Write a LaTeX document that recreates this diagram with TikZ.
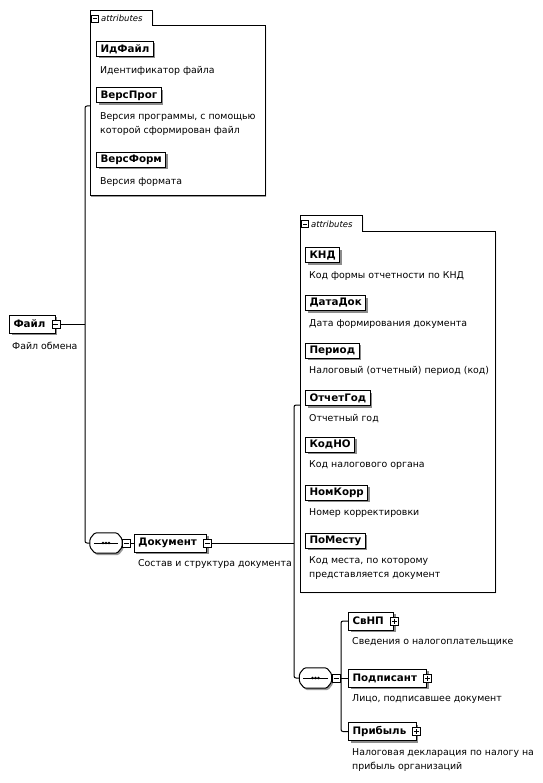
\documentclass[tikz,border=0pt]{standalone}
\usepackage{fontspec}
\setmainfont{DejaVu Sans}
\usetikzlibrary{positioning,shadows}

\newcommand{\tail}{\hspace{6pt}\null}

% sequence compositor, drawn round an empty node (shadow first, then outline)
\newcommand{\seqsym}[2]{%
  \node[seqbox] (#1) at (#2) {};
  \foreach \dx/\dy/\sty in {1.5pt/-2pt/seqshade, 0pt/0pt/seqline} {
    \path[\sty] ([shift={(\dx,\dy+4pt)}]#1.west) -- ([shift={(\dx+5pt,\dy)}]#1.north west)
      -- ([shift={(\dx-5pt,\dy)}]#1.north east) -- ([shift={(\dx,\dy+4pt)}]#1.east)
      -- ([shift={(\dx,\dy-4pt)}]#1.east) -- ([shift={(\dx-5pt,\dy)}]#1.south east)
      -- ([shift={(\dx+5pt,\dy)}]#1.south west) -- ([shift={(\dx,\dy-4pt)}]#1.west) -- cycle;
  }
  \draw[line width=0.9pt] ([xshift=4pt]#1.west) -- ([xshift=-4pt]#1.east);
  \fill (#1.center) circle (1.3pt) ++(-3pt,0) circle (1.3pt) ++(6pt,0) circle (1.3pt);
}

\tikzset{
  elem/.style={draw, fill=white, line width=1pt, anchor=west,
    font=\bfseries\fontsize{10.3}{12}\selectfont,
    minimum height=18pt, inner xsep=4pt, inner ysep=0pt,
    drop shadow={shadow xshift=2pt, shadow yshift=-2pt, fill=black!45, opacity=1}},
  attr/.style={elem, minimum height=15pt},
  desc/.style={align=left, inner sep=0pt, font=\fontsize{9.4}{14}\selectfont},
  collapse/.style={draw, fill=white, line width=0.7pt, minimum size=8pt, inner sep=0pt,
    path picture={\draw ([xshift=1.5pt]path picture bounding box.west)
      -- ([xshift=-1.5pt]path picture bounding box.east);}},
  expand/.style={draw, fill=white, line width=0.7pt, minimum size=8pt, inner sep=0pt,
    path picture={\draw ([xshift=1.5pt]path picture bounding box.west)
      -- ([xshift=-1.5pt]path picture bounding box.east);
      \draw ([yshift=-1.5pt]path picture bounding box.north)
      -- ([yshift=1.5pt]path picture bounding box.south);}},
  seqbox/.style={minimum width=32pt, minimum height=20pt, inner sep=0pt},
  seqshade/.style={fill=black!40, rounded corners=1.5pt},
  seqline/.style={draw, fill=white, line width=1pt, rounded corners=1.5pt},
  attrbox/.style={draw, fill=white, line width=1pt,
    drop shadow={shadow xshift=1pt, shadow yshift=-1pt, fill=black!40, opacity=1}},
  tabtext/.style={inner sep=0pt, font=\itshape\fontsize{8.5}{10}\selectfont},
  link/.style={draw, line width=1pt, rounded corners=2pt},
}

\begin{document}
\begin{tikzpicture}[x=1pt, y=-1pt]
  \useasboundingbox (0,0) rectangle (542,783);

  % attributes of Файл
  \draw[attrbox] (90,196) -- (90,11) -- (152,11) -- (152,26) -- (265,26) -- (265,196) -- cycle;
  \node[collapse, minimum size=7pt] (attram) at (95,18.5) {};
  \node[tabtext, right=2pt of attram] (attrat) {attributes};
  \coordinate (attra) at (90,106);

  \node[attr] (idfajl) at (96,49) {ИдФайл};
  \node[desc, below right=9pt and 4pt of idfajl.south west] (idfajld) {Идентификатор файла};
  \node[attr] (versprog) at (96,95.5) {ВерсПрог};
  \node[desc, below right=9pt and 4pt of versprog.south west] (versprogd)
    {Версия программы, с помощью\\которой сформирован файл};
  \node[attr] (versform) at (96,160) {ВерсФорм};
  \node[desc, below right=9pt and 4pt of versform.south west] (versformd) {Версия формата};

  % root
  \node[elem] (fajl) at (9,324) {Файл\tail};
  \node[collapse] (fajlm) at (fajl.east) {};
  \node[desc, below right=8pt and 3pt of fajl.south west] (fajld) {Файл обмена};

  \coordinate (trunka) at (85,106);
  \coordinate (trunkb) at (85,543);
  \seqsym{seqa}{106,543}
  \node[collapse, anchor=west] (seqam) at (seqa.east) {};
  \draw[link] (attra) -- (trunka) -- (trunkb) -- (seqa.west);
  \draw[link] (fajlm.east) -- (fajlm.east -| trunka);
  \draw[link] (seqam.east) -- ++(3pt,0);

  \node[elem, right=3pt of seqam] (dok) {Документ\tail};
  \node[collapse] (dokm) at (dok.east) {};
  \node[desc, below right=7pt and 4pt of dok.south west] (dokd) {Состав и структура документа};

  % attributes of Документ
  \draw[attrbox] (300,592) -- (300,216) -- (362,216) -- (362,232) -- (495,232) -- (495,592) -- cycle;
  \node[collapse, minimum size=7pt] (attrbm) at (305,224) {};
  \node[tabtext, right=2pt of attrbm] (attrbt) {attributes};
  \coordinate (attrb) at (300,405);

  \node[attr] (knd) at (305,255.5) {КНД};
  \node[desc, below right=8pt and 4pt of knd.south west] (kndd) {Код формы отчетности по КНД};
  \node[attr] (datadok) at (305,303) {ДатаДок};
  \node[desc, below right=8pt and 4pt of datadok.south west] (datadokd) {Дата формирования документа};
  \node[attr] (period) at (305,350.5) {Период};
  \node[desc, below right=8pt and 4pt of period.south west] (periodd) {Налоговый (отчетный) период (код)};
  \node[attr] (otchgod) at (305,398) {ОтчетГод};
  \node[desc, below right=8pt and 4pt of otchgod.south west] (otchgodd) {Отчетный год};
  \node[attr] (kodno) at (305,444.5) {КодНО};
  \node[desc, below right=8pt and 4pt of kodno.south west] (kodnod) {Код налогового органа};
  \node[attr] (nomkorr) at (305,492.5) {НомКорр};
  \node[desc, below right=8pt and 4pt of nomkorr.south west] (nomkorrd) {Номер корректировки};
  \node[attr] (pomestu) at (305,540.5) {ПоМесту};
  \node[desc, below right=8pt and 4pt of pomestu.south west] (pomestud)
    {Код места, по которому\\представляется документ};

  \coordinate (trunkc) at (294,405);
  \coordinate (trunkd) at (294,678);
  \seqsym{seqb}{315.5,678}
  \node[collapse, anchor=west] (seqbm) at (seqb.east) {};
  \draw[link] (attrb) -- (trunkc) -- (trunkd) -- (seqb.west);
  \draw[link] (dokm.east) -- (dokm.east -| trunkc);

  % children of Документ
  \node[elem] (svnp) at (348,621) {СвНП\tail};
  \node[expand] (svnpp) at (svnp.east) {};
  \node[desc, below right=7pt and 4pt of svnp.south west] (svnpd) {Сведения о налогоплательщике};
  \node[elem] (podp) at (348,678) {Подписант\tail};
  \node[expand] (podpp) at (podp.east) {};
  \node[desc, below right=7pt and 4pt of podp.south west] (podpd) {Лицо, подписавшее документ};
  \node[elem] (pribyl) at (348,731.5) {Прибыль\tail};
  \node[expand] (pribylp) at (pribyl.east) {};
  \node[desc, below right=7pt and 4pt of pribyl.south west] (pribyld)
    {Налоговая декларация по налогу на\\прибыль организаций};

  \coordinate (branch) at (341,678);
  \draw[link] (seqbm.east) -- (podp.west);
  \draw[link] (svnp.west) -| (branch) |- (pribyl.west);
\end{tikzpicture}
\end{document}
